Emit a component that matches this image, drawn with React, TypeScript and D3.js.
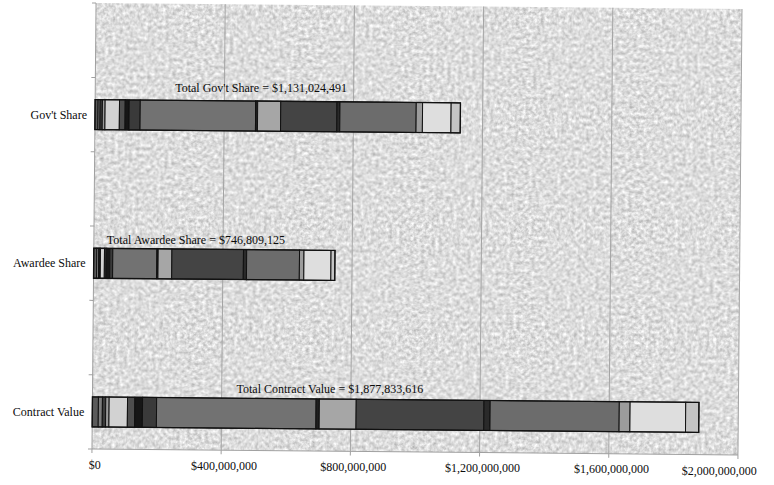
import React from "react";
import * as d3 from "d3";

// Category slots on the vertical axis (blank slots separate the three bars).
const CATEGORY_SLOTS = ["", "Gov't Share", "", "Awardee Share", "", "Contract Value"];
const BAR_SLOTS = [1, 3, 5];
const TOTAL_PREFIXES = ["Total Gov't Share", "Total Awardee Share", "Total Contract Value"];

// Stacked components, in dollars, left to right.
const GOV_SHARE = [
  9312400, 6204800, 7118300, 8407900, 44426500, 17702100, 12415600, 34193800,
  357284700, 6215300, 71508200, 174036900, 9291500, 236105400, 19614200, 88472300, 28714591,
];
const AWARDEE_SHARE = [
  9287300, 6193600, 3104200, 2215900, 12386400, 4987100, 11493800, 9306700,
  136428500, 4012600, 42517300, 221574200, 9893100, 163618400, 13906500, 83694200, 12189325,
];
const CONTRACT_VALUE = [
  18599700, 12398400, 10222500, 10623800, 56812900, 22689200, 23909400, 43500500,
  493713200, 10227900, 114025500, 395611100, 19184600, 399723800, 33520700, 172166500, 40903916,
];

const SEGMENT_SHADES = [
  "#5a5a5a", "#7c7c7c", "#3a3a3a", "#9a9a9a", "#d2d2d2", "#4e4e4e", "#161616", "#3a3a3a",
  "#727272", "#202020", "#a6a6a6", "#444444", "#2a2a2a", "#6c6c6c", "#9c9c9c", "#dedede", "#c4c4c4",
];

const X_TICKS = [0, 400000000, 800000000, 1200000000, 1600000000, 2000000000];

const BAR_SERIES = [GOV_SHARE, AWARDEE_SHARE, CONTRACT_VALUE];

// The whole sheet sits at a slight clockwise tilt.
const TILT_DEG = 0.52;
const PIVOT = { x: 416, y: 228 };

function tilt(px: number, py: number) {
  const a = (TILT_DEG * Math.PI) / 180;
  const dx = px - PIVOT.x;
  const dy = py - PIVOT.y;
  return {
    x: PIVOT.x + dx * Math.cos(a) - dy * Math.sin(a),
    y: PIVOT.y + dx * Math.sin(a) + dy * Math.cos(a),
  };
}

export default function App() {
  const W = 774;
  const H = 485;
  const plot = { left: 94, right: 740, top: 6, bottom: 452 };

  const x = d3.scaleLinear().domain([0, 2000000000]).range([plot.left, plot.right]);
  const y = d3
    .scaleBand<number>()
    .domain(d3.range(CATEGORY_SLOTS.length))
    .range([plot.top, plot.bottom])
    .paddingInner(0)
    .paddingOuter(0);

  const bandH = y.bandwidth();
  const barH = 30;
  const money = d3.format("$,");

  // Hand-placed total captions (start x, vertical centre), untilted frame.
  const captionPos = [
    { x: 174, y: 90 },
    { x: 107, y: 243 },
    { x: 238, y: 391 },
  ];

  const textProps = { fill: "#0c0c0c" };

  return (
    <svg
      width={W}
      height={H}
      viewBox={`0 0 ${W} ${H}`}
      style={{ position: "absolute", left: 0, top: 0, display: "block", background: "#fff" }}
      fontFamily="'Liberation Serif', 'Times New Roman', serif"
      fontSize={12}
    >
      <defs>
        <filter id="granite" x="0" y="0" width="100%" height="100%" colorInterpolationFilters="sRGB">
          <feTurbulence type="fractalNoise" baseFrequency="0.28" numOctaves="3" seed="11" result="n" />
          <feColorMatrix
            in="n"
            type="matrix"
            values="0.42 0 0 0 0.655  0.42 0 0 0 0.655  0.42 0 0 0 0.655  0 0 0 0 1"
          />
        </filter>
      </defs>

      <g transform={`rotate(${TILT_DEG} ${PIVOT.x} ${PIVOT.y})`}>
        {/* textured plot background */}
        <rect
          x={plot.left}
          y={plot.top}
          width={plot.right - plot.left}
          height={plot.bottom - plot.top}
          fill="#dcdcdc"
          filter="url(#granite)"
        />

        {/* vertical gridlines */}
        {X_TICKS.slice(1).map((t) => (
          <line
            key={`g${t}`}
            x1={x(t)}
            x2={x(t)}
            y1={plot.top}
            y2={plot.bottom}
            stroke="#a4a4a4"
            strokeWidth={1}
          />
        ))}

        {/* axes */}
        <line x1={plot.left} x2={plot.left} y1={plot.top} y2={plot.bottom} stroke="#a0a0a0" />
        <line x1={plot.left} x2={plot.right} y1={plot.bottom} y2={plot.bottom} stroke="#a0a0a0" />
        {d3.range(CATEGORY_SLOTS.length + 1).map((i) => {
          const yy = plot.top + i * bandH;
          return (
            <line key={`ct${i}`} x1={plot.left - 4} x2={plot.left} y1={yy} y2={yy} stroke="#a0a0a0" />
          );
        })}
        {X_TICKS.map((t) => (
          <line
            key={`xt${t}`}
            x1={x(t)}
            x2={x(t)}
            y1={plot.bottom}
            y2={plot.bottom + 4}
            stroke="#a0a0a0"
          />
        ))}

        {/* stacked bars */}
        {BAR_SERIES.map((values, b) => {
          const slot = BAR_SLOTS[b];
          const cy = (y(slot) as number) + bandH / 2;
          const ends = d3.cumsum(values);
          return (
            <g key={`bar${b}`}>
              {values.map((v, k) => {
                const x0 = x(k === 0 ? 0 : ends[k - 1]);
                const x1 = x(ends[k]);
                return (
                  <rect
                    key={k}
                    x={x0}
                    y={cy - barH / 2}
                    width={Math.max(0, x1 - x0)}
                    height={barH}
                    fill={SEGMENT_SHADES[k]}
                    stroke="#111"
                    strokeWidth={1}
                  />
                );
              })}
              <rect
                x={x(0)}
                y={cy - barH / 2}
                width={x(ends[ends.length - 1]) - x(0)}
                height={barH}
                fill="none"
                stroke="#111"
                strokeWidth={1.3}
              />
            </g>
          );
        })}
      </g>

      {/* text is positioned along the tilt but drawn upright */}
      {X_TICKS.map((t, i) => {
        const last = i === X_TICKS.length - 1;
        const p = tilt(last ? 759 : x(t) + 3, 471.5);
        return (
          <text key={`xl${t}`} x={p.x} y={p.y} textAnchor={last ? "end" : "middle"} {...textProps}>
            {money(t)}
          </text>
        );
      })}

      {CATEGORY_SLOTS.map((c, i) => {
        if (!c) return null;
        const p = tilt(86, (y(i) as number) + bandH / 2 + 4);
        return (
          <text key={`cl${i}`} x={p.x} y={p.y} textAnchor="end" {...textProps}>
            {c}
          </text>
        );
      })}

      {BAR_SERIES.map((values, b) => {
        const p = tilt(captionPos[b].x, captionPos[b].y + 4);
        return (
          <text key={`tot${b}`} x={p.x} y={p.y} {...textProps}>
            {`${TOTAL_PREFIXES[b]} = ${money(d3.sum(values))}`}
          </text>
        );
      })}
    </svg>
  );
}
